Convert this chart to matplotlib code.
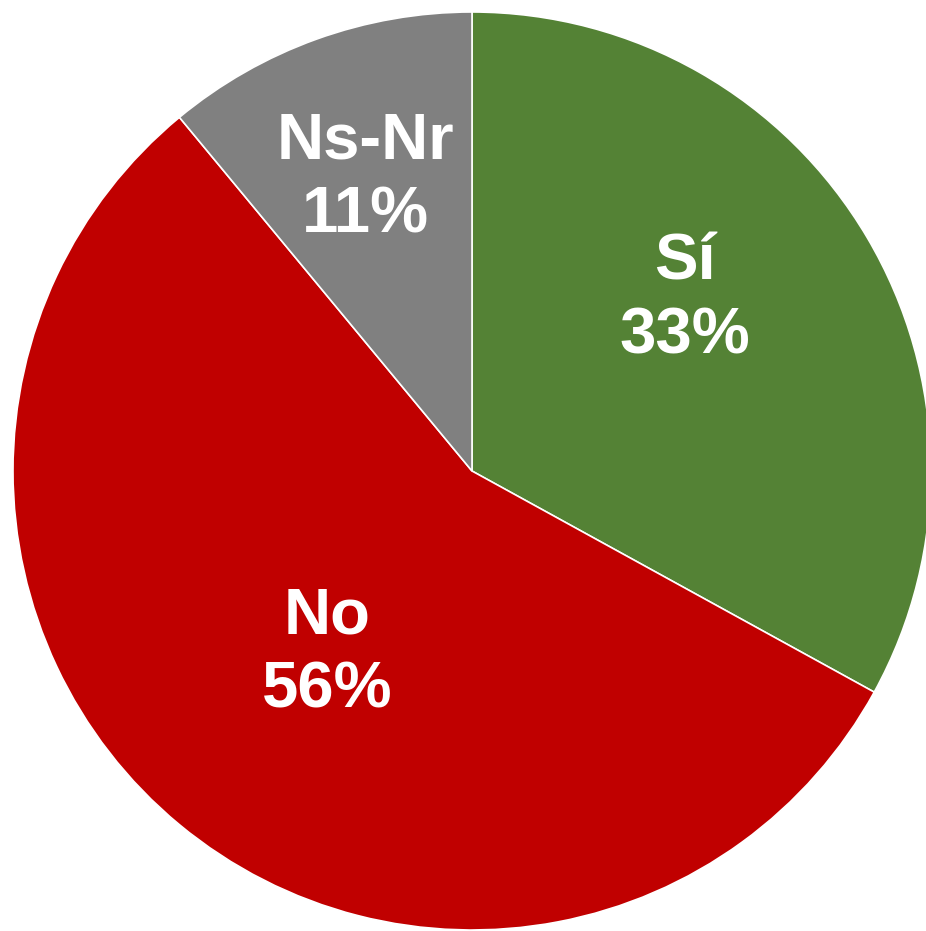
import matplotlib.pyplot as plt

# Data
labels = ['Sí', 'No', 'Ns-Nr']
values = [33, 56, 11]
colors = ['#548235', '#C00000', '#808080']
label_pos = [(0.464, 0.373), (-0.316, -0.397), (-0.233, 0.637)]

fig = plt.figure(figsize=(9.26, 9.31), dpi=100)
ax = fig.add_axes([13 / 926, 1 / 931, 918 / 926, 918 / 931])

ax.pie(values, colors=colors, startangle=90, counterclock=False,
       radius=1.0, wedgeprops=dict(edgecolor='white', linewidth=1.2))

for lab, val, (x, y) in zip(labels, values, label_pos):
    ax.text(x, y, f'{lab}\n{val}%', ha='center', va='center',
            color='white', fontsize=47, fontweight='bold',
            family='Liberation Sans', linespacing=1.3)

ax.set_xlim(-1, 1)
ax.set_ylim(-1, 1)
ax.set_aspect('auto')
ax.axis('off')

fig.savefig('out.png', dpi=100, facecolor='white')
